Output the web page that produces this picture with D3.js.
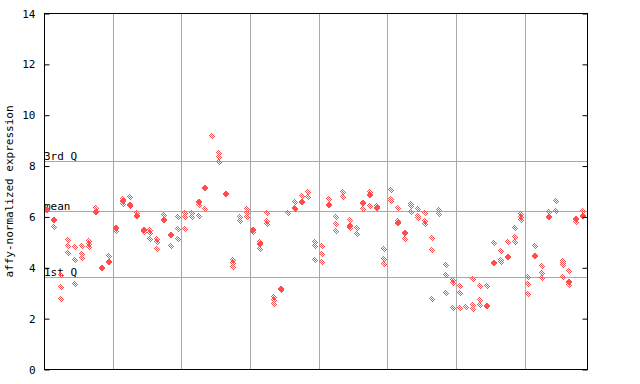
<!DOCTYPE html>
<html>
<head>
<meta charset="utf-8">
<script src="https://cdn.jsdelivr.net/npm/d3@7/dist/d3.min.js"></script>
<style>
  html, body { margin: 0; padding: 0; background: #fff; }
  svg { display: block; }
  text { font-family: "DejaVu Sans Mono", "Liberation Mono", monospace; font-size: 11px; fill: #000; }
</style>
</head>
<body>
<svg id="chart" width="640" height="384"></svg>
<script>
// ---- data ----
const yTicks = [0, 2, 4, 6, 8, 10, 12, 14];
const yLabel = "affy-normalized expression";
const refValues = [8.21, 6.23, 3.63];
const refLabels = ["3rd Q", "mean", "1st Q"];
const groupBreaks = [9.5, 19.5, 29.5, 39.5, 49.5, 59.5, 69.5];

// hollow (dithered) markers per sample column
const hollowVals = [
  [], [5.59], [3.71, 3.26, 2.79], [5.09, 4.85, 4.60], [4.81, 4.32, 3.38],
  [4.86, 4.56, 4.40], [5.06, 4.93, 4.80], [6.37], [], [4.46],
  [5.45], [6.69, 6.50], [6.77, 6.42], [6.14], [5.41],
  [5.48, 5.35, 5.15], [5.13, 5.00, 4.74], [6.07], [4.85], [6.01, 5.51, 5.15],
  [6.14, 5.98, 5.51], [6.16, 5.98], [6.48, 6.02], [6.33], [9.17],
  [8.50, 8.35, 8.15], [], [4.30, 4.17, 4.03], [6.01, 5.84], [6.30, 6.14, 6.01],
  [5.40], [5.02, 4.72], [6.14, 5.85, 5.74], [2.85, 2.72, 2.59], [3.12],
  [6.14], [6.57, 6.37, 6.30], [6.83], [6.99, 6.79], [5.02, 4.86, 4.30],
  [4.86, 4.56, 4.24], [6.69], [5.98, 5.71, 5.44], [6.97, 6.77], [5.86, 5.55],
  [5.58, 5.32], [6.30], [6.97, 6.43], [6.43], [4.72, 4.34, 4.13],
  [7.05, 6.71, 6.64], [6.37, 5.84], [5.15], [6.51, 6.43, 6.19], [6.30, 6.05, 5.97],
  [6.14, 5.84, 5.74], [5.19, 4.69, 2.79], [6.26, 6.10], [4.09, 3.73, 3.02], [3.51, 3.40, 2.43],
  [3.28, 3.02, 2.43], [2.46], [3.55, 2.52, 2.37], [3.27, 2.72, 2.52], [3.27],
  [4.96], [4.65, 4.31, 4.22], [5.01], [5.55, 5.23, 5.03], [6.10, 5.98, 5.88],
  [3.65, 3.38, 2.98], [4.84], [4.06, 3.81, 3.60], [6.18], [6.61, 6.22],
  [4.26, 4.17, 4.09, 3.65], [3.89, 3.32], [5.80], [6.24]
];
// solid markers per sample column
const filledVals = [
  [6.27], [5.86], [], [], [],
  [], [], [6.20], [3.99], [4.24],
  [5.55], [6.62], [6.47], [6.03], [5.50],
  [], [], [5.88], [5.30], [],
  [], [], [6.60], [7.15], [],
  [], [6.91], [], [], [],
  [5.48], [4.93], [], [], [3.18],
  [], [], [6.60], [], [],
  [], [6.47], [], [], [5.65],
  [], [6.56], [6.88], [6.35], [],
  [], [5.77], [5.37], [], [],
  [], [], [], [], [],
  [], [], [], [], [2.50],
  [4.19], [], [4.43], [], [],
  [], [4.47], [], [6.01], [],
  [], [3.46], [5.93], [6.03]
];

// ---- chart ----
const svg = d3.select("#chart");
const L = 44, R = 588, T = 13.5, B = 369.5;
const red = "#ff4c4c";

const x = d3.scaleLinear().domain([-0.5, 78.7]).range([L, R]);
const y = d3.scaleLinear().domain([0, 14]).range([B, T]);

const defs = svg.append("defs");
const pat = defs.append("pattern")
  .attr("id", "dither").attr("patternUnits", "userSpaceOnUse")
  .attr("width", 2).attr("height", 2);
pat.append("rect").attr("x", 0).attr("y", 0).attr("width", 1).attr("height", 1).attr("fill", red);
pat.append("rect").attr("x", 1).attr("y", 1).attr("width", 1).attr("height", 1).attr("fill", red);

// vertical group separators
svg.append("g").selectAll("line").data(groupBreaks).join("line")
  .attr("x1", d => Math.round(x(d)) + 0.5).attr("x2", d => Math.round(x(d)) + 0.5)
  .attr("y1", T).attr("y2", B)
  .attr("stroke", "#a8a8a8").attr("stroke-width", 1);

// reference lines
svg.append("g").selectAll("line").data(refValues).join("line")
  .attr("x1", L).attr("x2", R)
  .attr("y1", d => Math.round(y(d)) + 0.5).attr("y2", d => Math.round(y(d)) + 0.5)
  .attr("stroke", "#a8a8a8").attr("stroke-width", 1);

svg.append("g").selectAll("text").data(refValues).join("text")
  .attr("x", L).attr("y", d => Math.round(y(d)) - 1)
  .text((d, i) => refLabels[i]);

// points
const diamond = "M0,-3.5L3,0L0,3.5L-3,0Z";
const hollowPts = [], filledPts = [];
hollowVals.forEach((arr, i) => arr.forEach(v => hollowPts.push({ i, v })));
filledVals.forEach((arr, i) => arr.forEach(v => filledPts.push({ i, v })));

svg.append("g").selectAll("path").data(hollowPts).join("path")
  .attr("d", diamond)
  .attr("transform", d => `translate(${Math.round(x(d.i))},${Math.round(y(d.v))})`)
  .attr("fill", "url(#dither)")
  .attr("shape-rendering", "crispEdges");

svg.append("g").selectAll("path").data(filledPts).join("path")
  .attr("d", diamond)
  .attr("transform", d => `translate(${Math.round(x(d.i))},${Math.round(y(d.v))})`)
  .attr("fill", red)
  .attr("shape-rendering", "crispEdges");

// axes: left (labels + inward ticks), right (inward ticks)
const leftAxis = d3.axisLeft(y).tickValues(yTicks).tickSize(-5).tickPadding(9).tickFormat(d3.format("d"));
const gl = svg.append("g").attr("transform", `translate(${L + 0.5},0)`).call(leftAxis);
gl.select(".domain").remove();
gl.selectAll(".tick line").attr("stroke", "#000");
gl.selectAll(".tick text").attr("font-family", "DejaVu Sans Mono").attr("font-size", 11).attr("fill", "#000");

const rightAxis = d3.axisRight(y).tickValues(yTicks).tickSize(-5).tickFormat("");
const gr = svg.append("g").attr("transform", `translate(${R - 0.5},0)`).call(rightAxis);
gr.select(".domain").remove();
gr.selectAll(".tick line").attr("stroke", "#000");

// frame
svg.append("rect")
  .attr("x", L + 0.5).attr("y", T).attr("width", R - L - 1).attr("height", B - T)
  .attr("fill", "none").attr("stroke", "#000").attr("stroke-width", 1);

// y axis title
svg.append("text")
  .attr("transform", `translate(13,${(T + B) / 2}) rotate(-90)`)
  .attr("text-anchor", "middle")
  .text(yLabel);
</script>
</body>
</html>
